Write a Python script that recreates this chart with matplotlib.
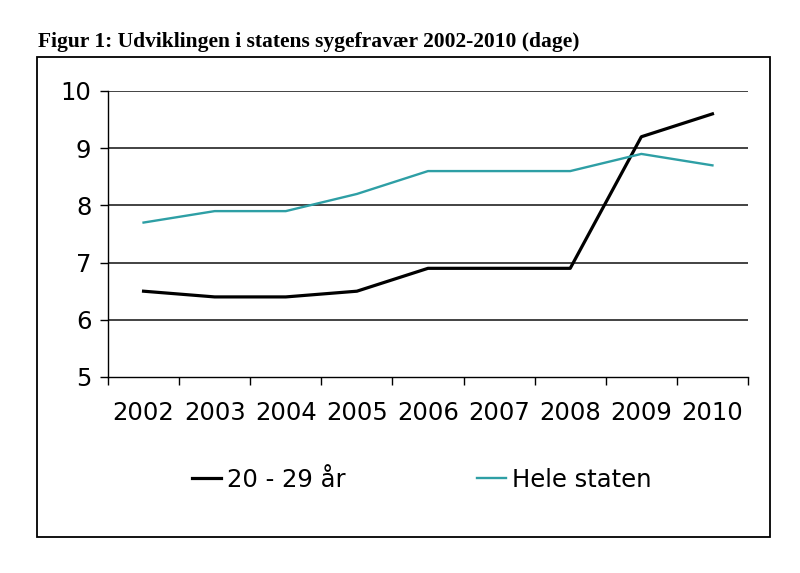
import matplotlib
matplotlib.use("Agg")
import matplotlib.pyplot as plt
from matplotlib.patches import Rectangle
import numpy as np

# data
years = ["2002", "2003", "2004", "2005", "2006", "2007", "2008", "2009", "2010"]
young = [6.5, 6.4, 6.4, 6.5, 6.9, 6.9, 6.9, 9.2, 9.6]
whole_state = [7.7, 7.9, 7.9, 8.2, 8.6, 8.6, 8.6, 8.9, 8.7]
y_ticks = [5, 6, 7, 8, 9, 10]

title = "Figur 1: Udviklingen i statens sygefravær 2002-2010 (dage)"
label_young = "20 - 29 år"
label_state = "Hele staten"

plt.rcParams['font.family'] = ['DejaVu Sans']

fig = plt.figure(figsize=(8, 5.73), dpi=100)
ax = fig.add_axes([108/800, 1-377/573, 640/800, 286/573])

x = np.arange(len(years))
ax.plot(x, young, color="black", lw=2.3, label=label_young, zorder=3)
ax.plot(x, whole_state, color="#2E9FA5", lw=1.7, label=label_state, zorder=3)

ax.set_xlim(-0.5, len(years) - 0.5)
ax.set_ylim(5, 10)
ax.set_yticks(y_ticks)
ax.set_yticklabels([str(v) for v in y_ticks], fontsize=17.5)
ax.set_xticks(x)
ax.set_xticklabels(years, fontsize=17.5)
ax.set_xticks(np.arange(-0.5, len(years)), minor=True)
ax.tick_params(axis="x", which="major", length=0, pad=17)
ax.tick_params(axis="x", which="minor", length=6, width=1, direction="out")
ax.tick_params(axis="y", length=6, width=1, pad=6)

for v in y_ticks[1:]:
    ax.axhline(v, color="#222222", lw=1.2, zorder=1)

for side in ["top", "right"]:
    ax.spines[side].set_visible(False)
ax.spines["left"].set_linewidth(1)
ax.spines["bottom"].set_linewidth(1)

fig.legend(loc="center", bbox_to_anchor=(422/800, 1-480/573), ncol=2, frameon=False,
           fontsize=17.5, handlelength=1.2, handletextpad=0.25, columnspacing=5.4)

fig.add_artist(Rectangle((37/800, 1-537/573), 733/800, 480/573, transform=fig.transFigure,
                         fill=False, edgecolor="black", lw=1.3))

fig.text(38/800, 1-42/573, title, fontsize=15.5, fontweight="bold",
         family="Liberation Serif", va="center", ha="left")

fig.savefig("out.png", dpi=100)
